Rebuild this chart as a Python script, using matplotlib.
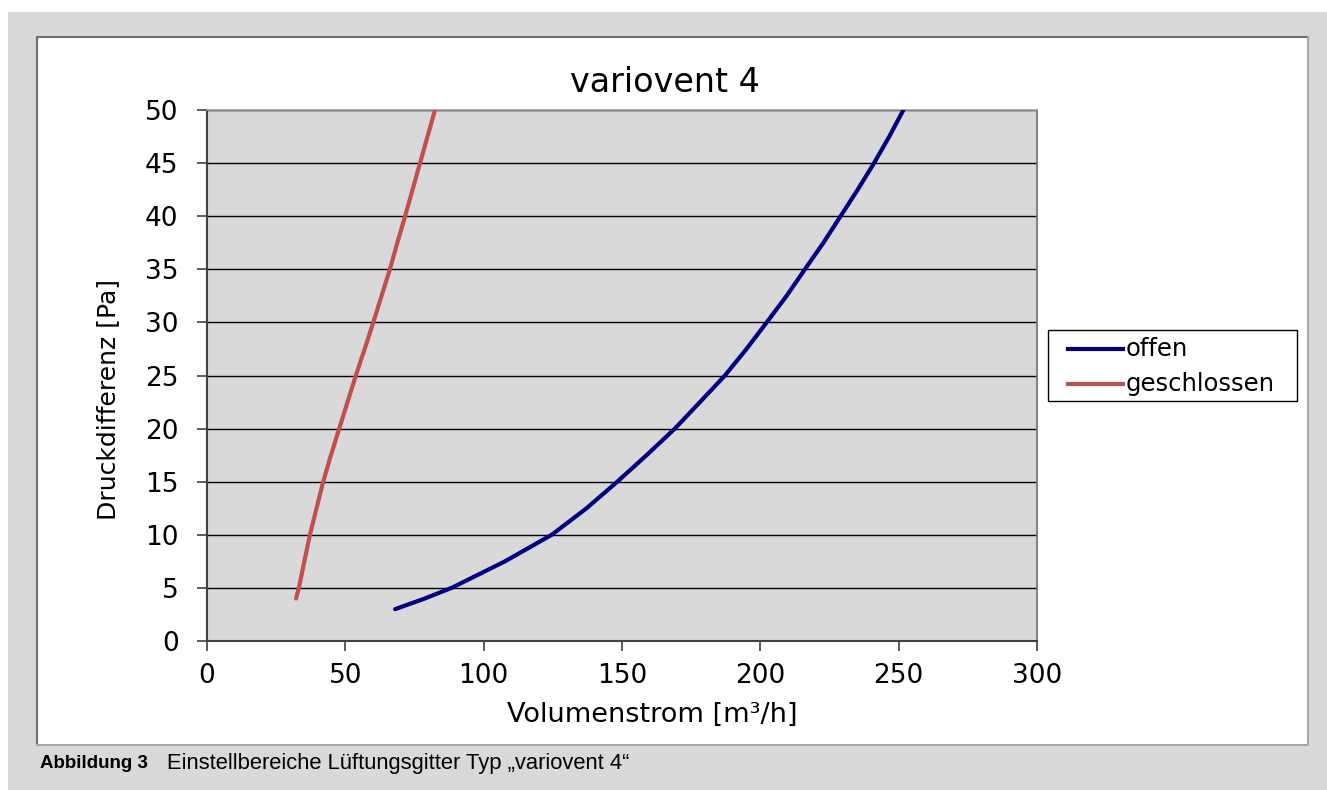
import matplotlib
matplotlib.use("Agg")
import matplotlib.pyplot as plt
from matplotlib.patches import Rectangle
from matplotlib.lines import Line2D

plt.rcParams["font.family"] = ["DejaVu Sans"]

# curve readings (Volumenstrom m3/h, Druckdifferenz Pa)
offen_x = [68.0, 78.2, 88.4, 107.7, 124.6, 137.2, 148.3, 158.9, 169.1, 178.2, 187.2,
           195.0, 202.3, 209.5, 216.1, 222.8, 229.0, 235.2, 241.1, 246.6, 251.7]
offen_y = [3.0, 3.95, 5.0, 7.5, 10.0, 12.5, 15.0, 17.5, 20.0, 22.5, 25.0,
           27.5, 30.0, 32.5, 35.0, 37.5, 40.0, 42.5, 45.0, 47.5, 50.0]
geschlossen_x = [32.2, 33.2, 35.2, 37.2, 39.6, 42.0, 44.8, 47.8, 50.8, 53.8, 57.0,
                 60.1, 63.1, 66.1, 68.8, 71.6, 74.3, 77.0, 79.7, 82.4]
geschlossen_y = [4.0, 5.0, 7.5, 10.0, 12.5, 15.0, 17.5, 20.0, 22.5, 25.0, 27.5,
                 30.0, 32.5, 35.0, 37.5, 40.0, 42.5, 45.0, 47.5, 50.0]
series_names = ["offen", "geschlossen"]
series_colors = ["#000080", "#c0504d"]

x_ticks = [0, 50, 100, 150, 200, 250, 300]
y_ticks = [0, 5, 10, 15, 20, 25, 30, 35, 40, 45, 50]

W, H = 1327, 790


def px(x, y):
    return x / W, 1 - y / H


fig = plt.figure(figsize=(W / 100, H / 100), dpi=100)
fig.patch.set_facecolor("white")

# page background and white chart frame
fig.patches.append(Rectangle(px(8, H), 1, 1 - 12 / H, transform=fig.transFigure,
                             facecolor="#d9d9d9", edgecolor="none", zorder=-3))
fig.patches.append(Rectangle(px(37, 745), 1271 / W, 708 / H, transform=fig.transFigure,
                             facecolor="white", edgecolor="none", zorder=-2))
fig.lines.append(Line2D(*zip(px(37, 745), px(37, 37), px(1308, 37)), transform=fig.transFigure,
                        color="#6f6f6f", lw=1.5))
fig.lines.append(Line2D(*zip(px(37, 745), px(1308, 745), px(1308, 37)), transform=fig.transFigure,
                        color="#a8a8a8", lw=1.5))

ax = fig.add_axes([207 / W, 1 - 641 / H, 830 / W, 531 / H])
ax.set_facecolor("#d9d9d9")
ax.plot(offen_x, offen_y, color=series_colors[0], lw=3, solid_capstyle="round",
        solid_joinstyle="round", zorder=3)
ax.plot(geschlossen_x, geschlossen_y, color=series_colors[1], lw=3, solid_capstyle="round",
        solid_joinstyle="round", zorder=3)

ax.set_xlim(0, 300)
ax.set_ylim(0, 50)
ax.set_xticks(x_ticks)
ax.set_yticks(y_ticks)
ax.yaxis.grid(True, color="black", lw=1)
ax.set_axisbelow(True)
ax.tick_params(direction="out", length=7.5, width=1.2, color="#404040",
               labelsize=19, labelcolor="black")
ax.tick_params(axis="y", pad=13)
ax.tick_params(axis="x", pad=8)
for side in ["left", "bottom"]:
    ax.spines[side].set_color("#404040")
    ax.spines[side].set_linewidth(1.5)
ax.spines["top"].set_color("#a0a0a0")
ax.spines["right"].set_color("#707070")
ax.spines["top"].set_linewidth(1.2)
ax.spines["right"].set_linewidth(1.2)

fig.text(*px(665, 82), "variovent 4", ha="center", va="center", fontsize=24)
fig.text(*px(652, 715), "Volumenstrom [m³/h]", ha="center", va="center", fontsize=19.5)
fig.text(*px(108, 400), "Druckdifferenz [Pa]", ha="center", va="center",
         rotation=90, fontsize=18)

# legend box drawn by hand to match the frame
fig.patches.append(Rectangle(px(1048, 401), 249 / W, 71 / H, transform=fig.transFigure,
                             facecolor="white", edgecolor="black", lw=1))
for name, color, ly in zip(series_names, series_colors, [349, 384]):
    fig.lines.append(Line2D(*zip(px(1068, ly), px(1123, ly)), transform=fig.transFigure,
                            color=color, lw=3))
    fig.text(*px(1126, ly), name, ha="left", va="center", fontsize=17.5)

cap_font = ["Liberation Sans Narrow", "Liberation Sans"]
fig.text(*px(40, 764), "Abbildung 3", fontsize=13.5, fontweight="bold", va="center",
         family=cap_font)
fig.text(*px(167, 764), "Einstellbereiche Lüftungsgitter Typ „variovent 4“",
         fontsize=15.8, va="center", family=cap_font)

fig.savefig("out.png", dpi=100)
